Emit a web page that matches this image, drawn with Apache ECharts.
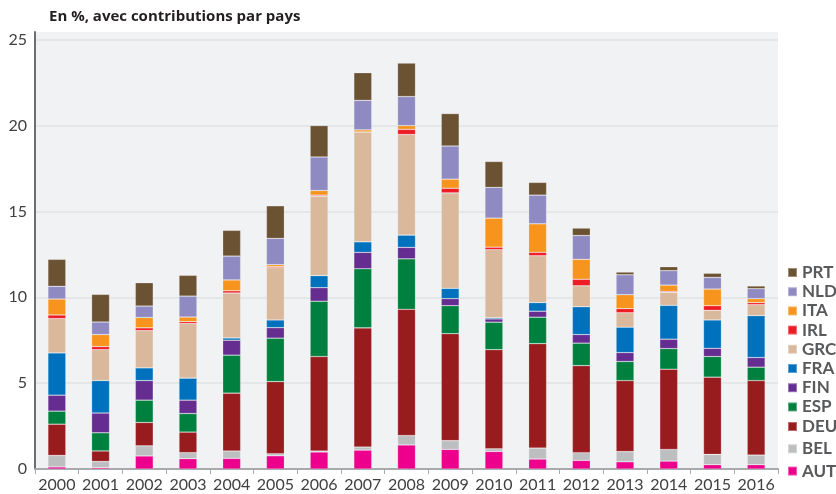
<!DOCTYPE html>
<html>
<head>
<meta charset="utf-8">
<script src="https://cdn.jsdelivr.net/npm/echarts@6/dist/echarts.min.js"></script>
<style>
  html, body { margin: 0; padding: 0; background: #fff; }
  #chart { width: 836px; height: 494px; }
</style>
</head>
<body>
<div id="chart"></div>
<script>
// years on the x axis
var years = ["2000", "2001", "2002", "2003", "2004", "2005", "2006", "2007", "2008",
  "2009", "2010", "2011", "2012", "2013", "2014", "2015", "2016"];

// contributions par pays (stack order, bottom to top)
var AUT = [0.12, 0.08, 0.76, 0.60, 0.62, 0.77, 0.99, 1.10, 1.40, 1.14, 1.02, 0.58, 0.50, 0.42, 0.46, 0.25, 0.25];
var BEL = [0.67, 0.36, 0.59, 0.35, 0.43, 0.12, 0.06, 0.18, 0.55, 0.51, 0.16, 0.64, 0.45, 0.59, 0.68, 0.60, 0.56];
var DEU = [1.82, 0.61, 1.36, 1.20, 3.37, 4.20, 5.50, 6.94, 7.35, 6.23, 5.77, 6.08, 5.07, 4.14, 4.67, 4.50, 4.34];
var ESP = [0.76, 1.06, 1.30, 1.08, 2.21, 2.53, 3.22, 3.44, 2.94, 1.63, 1.60, 1.54, 1.31, 1.11, 1.20, 1.20, 0.78];
var FIN = [0.93, 1.15, 1.14, 0.78, 0.87, 0.61, 0.79, 0.96, 0.67, 0.41, 0.19, 0.35, 0.50, 0.52, 0.55, 0.48, 0.56];
var FRA = [2.46, 1.89, 0.74, 1.28, 0.13, 0.45, 0.70, 0.61, 0.71, 0.60, 0.07, 0.50, 1.62, 1.48, 1.97, 1.65, 2.44];
var GRC = [2.00, 1.80, 2.17, 3.18, 2.62, 3.04, 4.63, 6.40, 5.86, 5.56, 3.96, 2.73, 1.22, 0.84, 0.76, 0.56, 0.64];
var IRL = [0.21, 0.18, 0.16, 0.11, 0.13, 0.06, 0.06, 0.00, 0.30, 0.27, 0.15, 0.20, 0.38, 0.24, 0.06, 0.27, 0.12];
var ITA = [0.93, 0.70, 0.60, 0.27, 0.63, 0.12, 0.27, 0.12, 0.22, 0.53, 1.69, 1.66, 1.16, 0.81, 0.36, 0.97, 0.23];
var NLD = [0.74, 0.73, 0.67, 1.22, 1.39, 1.53, 1.95, 1.72, 1.69, 1.93, 1.79, 1.67, 1.39, 1.16, 0.84, 0.68, 0.58];
var PRT = [1.57, 1.61, 1.36, 1.21, 1.50, 1.90, 1.83, 1.61, 1.95, 1.89, 1.51, 0.74, 0.43, 0.16, 0.23, 0.24, 0.16];

var countries = ["AUT", "BEL", "DEU", "ESP", "FIN", "FRA", "GRC", "IRL", "ITA", "NLD", "PRT"];
var values = [AUT, BEL, DEU, ESP, FIN, FRA, GRC, IRL, ITA, NLD, PRT];
var colors = ["#ec008c", "#bcbec0", "#981b1e", "#00803e", "#662d91", "#0071bc",
  "#d9b89c", "#ed1c24", "#f7941d", "#8f8ac2", "#6b5232"];

var yTicks = [0, 5, 10, 15, 20, 25];

var chart = echarts.init(document.getElementById("chart"));

var series = countries.map(function (name, i) {
  return {
    name: name,
    type: "bar",
    stack: "total",
    barWidth: "41%",
    data: values[i],
    itemStyle: {
      color: colors[i],
      borderColor: "rgba(255,255,255,0.35)",
      borderWidth: 0.6
    },
    animation: false
  };
});

var legendText = {
  fontFamily: "Lato",
  fontWeight: "bold",
  fontSize: 17,
  lineHeight: 16,
  color: "#58595b"
};

chart.setOption({
  textStyle: { fontFamily: "Lato" },
  title: {
    text: "En %, avec contributions par pays",
    left: 44,
    top: 4,
    textStyle: {
      fontFamily: "Open Sans",
      fontWeight: "bold",
      fontSize: 15,
      color: "#231f20"
    }
  },
  legend: [
    {
      orient: "vertical",
      left: 782,
      top: 259,
      itemWidth: 9,
      itemHeight: 9,
      itemGap: 2.2,
      icon: "rect",
      textStyle: legendText,
      data: ["PRT", "NLD", "ITA", "IRL", "GRC", "FRA", "FIN", "ESP"]
    },
    {
      orient: "vertical",
      left: 782,
      top: 413,
      itemWidth: 9,
      itemHeight: 9,
      itemGap: 5.3,
      icon: "rect",
      textStyle: legendText,
      data: ["DEU", "BEL", "AUT"]
    }
  ],
  grid: {
    left: 35,
    right: 58,
    top: 32,
    bottom: 25,
    show: true,
    backgroundColor: "#f1f2f4",
    borderWidth: 0
  },
  xAxis: {
    type: "category",
    data: years,
    axisLine: { lineStyle: { color: "#a7a9ac", width: 2 } },
    axisTick: { show: true, length: 5, lineStyle: { color: "#a7a9ac", width: 1 } },
    axisLabel: {
      interval: 0,
      fontFamily: "Lato",
      fontSize: 16,
      color: "#414042",
      margin: 8
    }
  },
  yAxis: {
    type: "value",
    min: yTicks[0],
    max: 25.45,
    interval: 5,
    axisLine: { show: true, lineStyle: { color: "#6d6e71", width: 2 } },
    axisTick: { show: false },
    axisLabel: {
      fontFamily: "Lato",
      fontSize: 16,
      color: "#414042",
      margin: 8,
      showMaxLabel: false,
      formatter: function (v) {
        return yTicks.indexOf(v) >= 0 ? String(v) : "";
      }
    },
    splitLine: {
      show: true,
      showMinLine: false,
      showMaxLine: false,
      lineStyle: { color: "#e1e2e5", width: 1.5 }
    }
  },
  series: series
});
</script>
</body>
</html>
